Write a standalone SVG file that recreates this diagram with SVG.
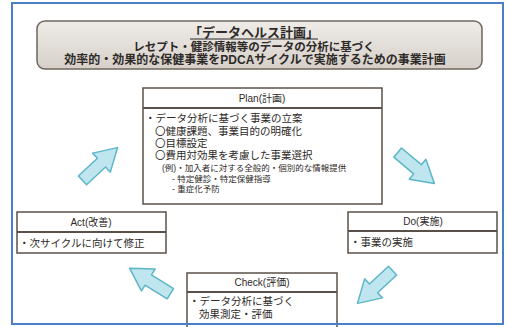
<svg xmlns="http://www.w3.org/2000/svg" width="510" height="327" viewBox="0 0 510 327">
<defs>
<linearGradient id="tg" x1="0" y1="0" x2="0" y2="1">
<stop offset="0" stop-color="#efece8"/>
<stop offset="1" stop-color="#d6d0c9"/>
</linearGradient>
<path id="arr" d="M-24,-6 L2,-6 L2,-13 L24,0 L2,13 L2,6 L-24,6 Z"/>
<style>
text{font-family:"Liberation Sans","Noto Sans CJK JP",sans-serif;fill:#2e2a28}
.box{fill:#fff;stroke:#5a504a;stroke-width:1.5}
.div{stroke:#5a504a;stroke-width:1.8}
.hd{font-size:10px;text-anchor:middle}
.bd{font-size:10.5px}
.sm{font-size:8.5px}
.ar{fill:#bfe6ee;stroke:#5cb6c8;stroke-width:1.5;stroke-linejoin:round}
.tt{font-weight:bold;text-anchor:middle}
</style>
</defs>
<rect x="0" y="0" width="510" height="327" fill="#fff"/>
<g id="title">
<rect x="37" y="21" width="445" height="48" rx="8" fill="url(#tg)" stroke="#6e655e" stroke-width="1.5"/>
<text class="tt" x="254" y="36.5" font-size="13">「データヘルス計画」</text>
<line x1="190" y1="39" x2="318" y2="39" stroke="#2e2a28" stroke-width="1"/>
<text class="tt" x="254" y="51" font-size="11.5">レセプト・健診情報等のデータの分析に基づく</text>
<text class="tt" x="255" y="63.5" font-size="12">効率的・効果的な保健事業をPDCAサイクルで実施するための事業計画</text>
</g>
<g id="plan">
<rect class="box" x="143" y="88" width="239" height="116"/>
<line class="div" x1="143" y1="108" x2="382" y2="108"/>
<text class="hd" x="262" y="102">Plan(計画)</text>
<text class="bd" x="145" y="122">・データ分析に基づく事業の立案</text>
<text class="bd" x="155" y="135">〇健康課題、事業目的の明確化</text>
<text class="bd" x="155" y="147">〇目標設定</text>
<text class="bd" x="155" y="159">〇費用対効果を考慮した事業選択</text>
<text class="sm" x="162" y="171">(例)・加入者に対する全般的・個別的な情報提供</text>
<text class="sm" x="172" y="181.5">- 特定健診・特定保健指導</text>
<text class="sm" x="172" y="192">- 重症化予防</text>
</g>
<g id="do">
<rect class="box" x="348" y="212" width="149" height="41"/>
<line class="div" x1="348" y1="231" x2="497" y2="231"/>
<text class="hd" x="423" y="225">Do(実施)</text>
<text class="bd" x="350" y="246">・事業の実施</text>
</g>
<g id="check">
<rect class="box" x="187" y="273" width="150" height="60"/>
<line class="div" x1="187" y1="292" x2="337" y2="292"/>
<text class="hd" x="262" y="286">Check(評価)</text>
<text class="bd" x="189" y="305">・データ分析に基づく</text>
<text class="bd" x="199" y="317.5">効果測定・評価</text>
</g>
<g id="act">
<rect class="box" x="17" y="212" width="149" height="41"/>
<line class="div" x1="17" y1="232" x2="166" y2="232"/>
<text class="hd" x="91" y="226">Act(改善)</text>
<text class="bd" x="19" y="247">・次サイクルに向けて修正</text>
</g>
<g id="connectors">
<use href="#arr" class="ar" transform="translate(100,164) rotate(-43)"/>
<use href="#arr" class="ar" transform="translate(416,168) rotate(40)"/>
<use href="#arr" class="ar" transform="translate(375,287) rotate(137)"/>
<use href="#arr" class="ar" transform="translate(150,281) rotate(-148)"/>
</g>
<rect x="12" y="3" width="491" height="321" fill="none" stroke="#4a7fc8" stroke-width="2"/>
</svg>
